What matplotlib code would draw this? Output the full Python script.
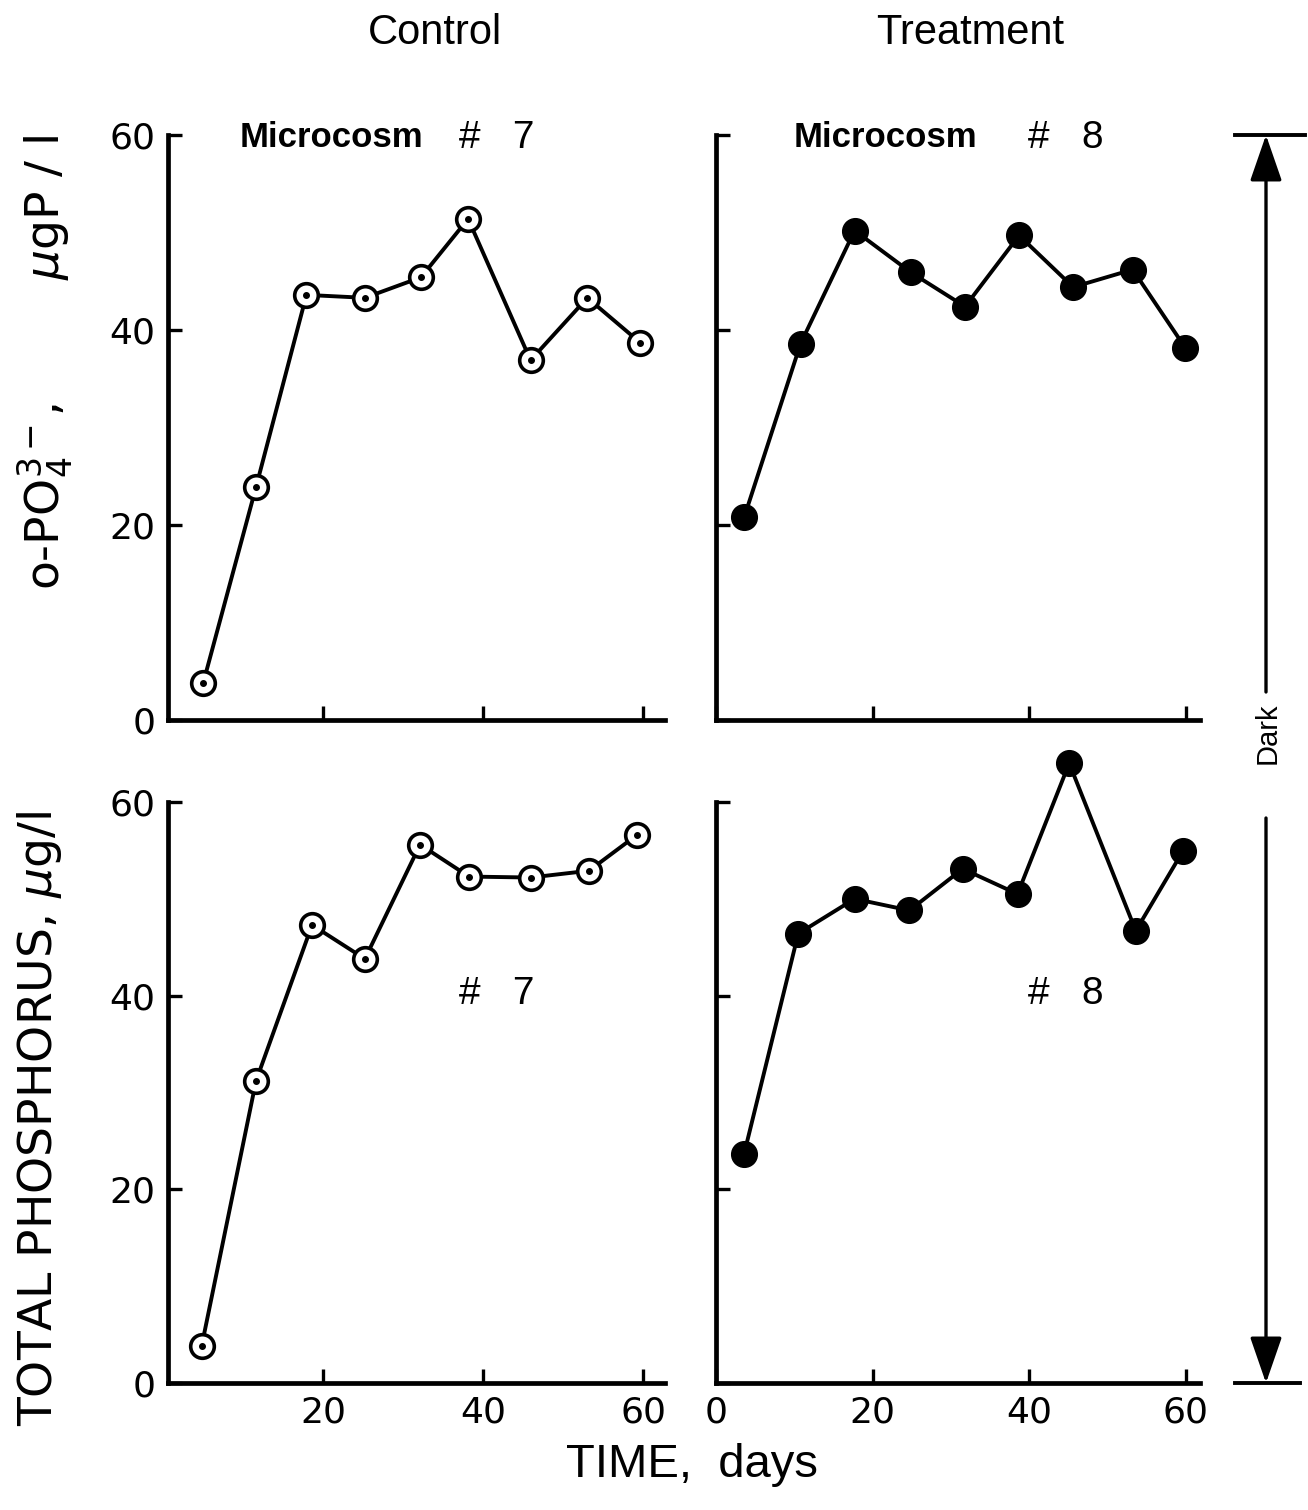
import numpy as np
import matplotlib
matplotlib.use('Agg')
import matplotlib.pyplot as plt
from matplotlib.patches import FancyArrowPatch

plt.rcParams['font.family'] = ['DejaVu Sans']
sans = ['Liberation Sans', 'DejaVu Sans']

# %% data
day_c_po4 = [5.0, 11.6, 17.9, 25.2, 32.2, 38.1, 45.9, 53.0, 59.6]
po4_c = [3.8, 23.9, 43.6, 43.3, 45.4, 51.4, 36.9, 43.3, 38.7]

day_t_po4 = [3.6, 10.8, 17.7, 24.9, 31.8, 38.7, 45.6, 53.2, 59.9]
po4_t = [20.8, 38.6, 50.2, 45.9, 42.4, 49.7, 44.4, 46.2, 38.2]

day_c_tp = [4.8, 11.6, 18.6, 25.2, 32.1, 38.2, 45.9, 53.2, 59.2]
tp_c = [3.8, 31.2, 47.3, 43.8, 55.6, 52.3, 52.2, 52.9, 56.6]

day_t_tp = [3.6, 10.5, 17.7, 24.7, 31.5, 38.5, 45.1, 53.6, 59.6]
tp_t = [23.7, 46.4, 50.0, 48.8, 53.1, 50.5, 64.0, 46.7, 54.9]

yticks = [0, 20, 40, 60]
xticks_left = [20, 40, 60]
xticks_right = [0, 20, 40, 60]

# %% figure
W, H = 1308, 1510
fig = plt.figure(figsize=(W/100, H/100), dpi=100)

def box(x0, y0, x1, y1):
    return [x0/W, 1-y1/H, (x1-x0)/W, (y1-y0)/H]

ax_tl = fig.add_axes(box(168, 135, 665, 720))
ax_tr = fig.add_axes(box(716, 135, 1200, 720))
ax_bl = fig.add_axes(box(168, 802, 665, 1383))
ax_br = fig.add_axes(box(716, 802, 1200, 1383))

def style(ax, xlim, xticks, xlab, ylab):
    ax.set_xlim(*xlim)
    ax.set_ylim(0, 60)
    for s in ['top', 'right']:
        ax.spines[s].set_visible(False)
    for s in ['left', 'bottom']:
        ax.spines[s].set_linewidth(3.4)
    ax.set_xticks(xticks)
    ax.set_yticks(yticks)
    ax.tick_params(direction='in', length=10, width=2.4, labelsize=26, pad=9)
    if not xlab:
        ax.set_xticklabels([])
    if not ylab:
        ax.set_yticklabels([])

style(ax_tl, (0.6, 62.7), xticks_left, False, True)
style(ax_tr, (0, 61.8), xticks_right, False, False)
style(ax_bl, (0.6, 62.7), xticks_left, True, True)
style(ax_br, (0, 61.8), xticks_right, True, False)

def open_series(ax, x, y):
    ax.plot(x, y, '-', color='black', lw=2.8, marker='o', ms=17,
            mfc='white', mec='black', mew=2.6, clip_on=False, zorder=3)
    ax.plot(x, y, linestyle='none', marker='o', ms=4, color='black',
            clip_on=False, zorder=4)

def filled_series(ax, x, y):
    ax.plot(x, y, '-', color='black', lw=2.8, marker='o', ms=18.5,
            mfc='black', mec='black', clip_on=False, zorder=3)

open_series(ax_tl, day_c_po4, po4_c)
filled_series(ax_tr, day_t_po4, po4_t)
open_series(ax_bl, day_c_tp, tp_c)
filled_series(ax_br, day_t_tp, tp_t)

# panel labels
lab = dict(fontsize=25, va='center', ha='left', fontweight='bold', family=sans)
num = dict(lab, fontsize=28, fontweight='normal')
ax_tl.text(0.145, 0.995, 'Microcosm', transform=ax_tl.transAxes, **lab)
ax_tl.text(0.585, 0.995, '#   7', transform=ax_tl.transAxes, **num)
ax_tr.text(0.16, 0.995, 'Microcosm', transform=ax_tr.transAxes, **lab)
ax_tr.text(0.645, 0.995, '#   8', transform=ax_tr.transAxes, **num)
ax_bl.text(0.585, 0.67, '#   7', transform=ax_bl.transAxes, **num)
ax_br.text(0.645, 0.67, '#   8', transform=ax_br.transAxes, **num)

# column headers and axis titles
fig.text(435/W, 1-33/H, 'Control', fontsize=30, ha='center', va='center', family=sans)
fig.text(970/W, 1-33/H, 'Treatment', fontsize=30, ha='center', va='center', family=sans)
fig.text(692/W, 1-1465/H, 'TIME,  days', fontsize=34, ha='center', va='center', family=sans)
fig.text(45/W, 1-362/H, r'o-PO$_4^{3-}$,        $\mu$gP / l', fontsize=34,
         rotation=90, ha='center', va='center')
fig.text(40/W, 1-1118/H, r'TOTAL PHOSPHORUS, $\mu$g/l', fontsize=34,
         rotation=90, ha='center', va='center')

# "Dark" period marker
xa = 1266/W
ytop = 1-135/H
ybot = 1-1383/H
fig.add_artist(plt.Line2D([1235/W, 1305/W], [ytop, ytop], color='black', lw=2.8))
fig.add_artist(plt.Line2D([1235/W, 1300/W], [ybot, ybot], color='black', lw=2.8))
for y0, y1 in [(1-692/H, ytop), (1-818/H, ybot)]:
    fig.add_artist(FancyArrowPatch(
        (xa, y0), (xa, y1), transform=fig.transFigure,
        arrowstyle='-|>,head_length=1.3,head_width=0.45', mutation_scale=22,
        color='black', lw=2.4, shrinkA=0, shrinkB=0))
fig.text(1268/W, 1-733/H, 'Dark', fontsize=21, rotation=90,
         ha='center', va='center', family=sans)

fig.savefig('out.png', dpi=100)
